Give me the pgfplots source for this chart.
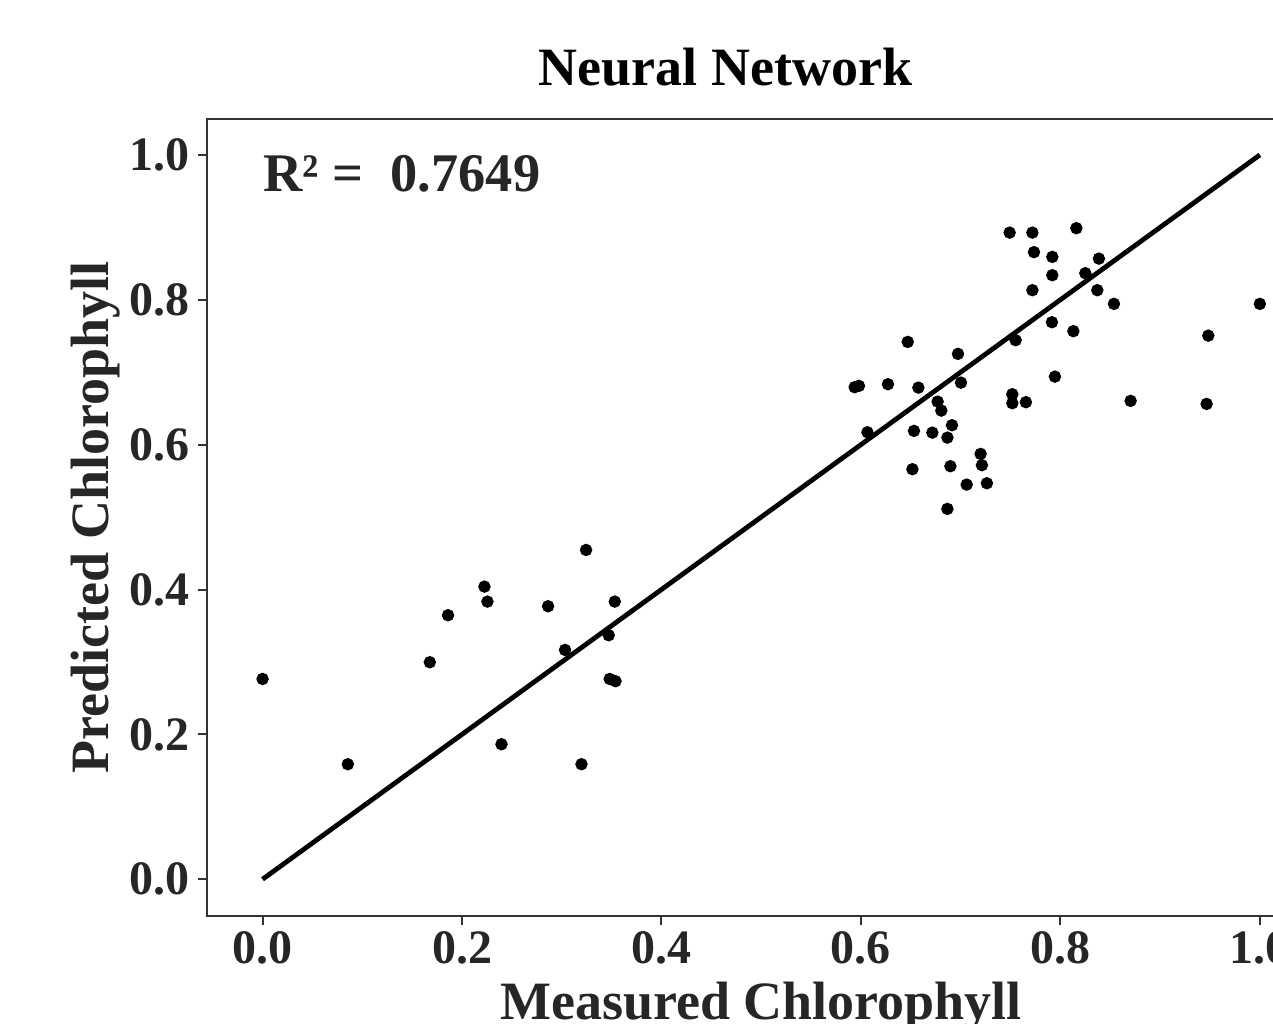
\documentclass[border=0pt]{standalone}
\usepackage{fontspec}
\setmainfont{Liberation Serif}
\usepackage{pgfplots}
\pgfplotsset{compat=1.18}
\definecolor{txt}{HTML}{262626}
\definecolor{frame}{HTML}{333333}

\begin{document}
\begin{tikzpicture}
  \begin{axis}[
    name = ax,
    scale only axis,
    width = 277pt,
    height = 199.2pt,
    xmin = -0.0555, xmax = 1.0555,
    ymin = -0.0507, ymax = 1.0493,
    axis line style = {frame, line width=0.5pt},
    xtick = {0,0.2,0.4,0.6,0.8,1},
    ytick = {0,0.2,0.4,0.6,0.8,1},
    xticklabels = {0.0,0.2,0.4,0.6,0.8,1.0},
    yticklabels = {0.0,0.2,0.4,0.6,0.8,1.0},
    tick align = outside,
    xtick pos = bottom,
    ytick pos = left,
    major tick length = 2.3pt,
    tick style = {frame, line width=0.5pt},
    ticklabel style = {font=\fontsize{12}{14}\selectfont\bfseries, text=txt},
    xticklabel style = {anchor=base, yshift=-9.5pt},
    yticklabel style = {anchor=east, inner sep=0pt, xshift=-1.8pt},
    clip = false,
    ]
    \addplot [black, line width=1.2pt] coordinates {(0,0) (1,1)};
    \addplot [only marks, mark=*, mark size=1.35pt, black] coordinates {
      (0.0000,0.2765) (0.0855,0.1588) (0.1677,0.2996) (0.1860,0.3645)
      (0.2225,0.4040) (0.2255,0.3833) (0.2396,0.1864) (0.2863,0.3769)
      (0.3244,0.4546) (0.3532,0.3833) (0.3033,0.3166) (0.3471,0.3369)
      (0.3481,0.2765) (0.3539,0.2734) (0.3198,0.1588)
      (0.7491,0.8927) (0.7719,0.8927) (0.8160,0.8988) (0.7735,0.8657)
      (0.7919,0.8592) (0.8386,0.8568) (0.7919,0.8339) (0.8250,0.8367)
      (0.7719,0.8132) (0.8370,0.8132) (0.8537,0.7943) (1.0000,0.7943)
      (0.7915,0.7690) (0.8130,0.7566) (0.6469,0.7418) (0.7551,0.7442)
      (0.6973,0.7253) (0.9483,0.7505) (0.5937,0.6793) (0.5980,0.6811)
      (0.6271,0.6834) (0.6576,0.6787) (0.7003,0.6856) (0.7945,0.6939)
      (0.7518,0.6696) (0.7518,0.6572) (0.7654,0.6586) (0.8704,0.6604)
      (0.9466,0.6562) (0.6769,0.6594) (0.6806,0.6470) (0.6065,0.6171)
      (0.6532,0.6190) (0.6716,0.6166) (0.6913,0.6268) (0.6867,0.6097)
      (0.7200,0.5872) (0.7213,0.5716) (0.6516,0.5661) (0.6897,0.5702)
      (0.7060,0.5448) (0.7263,0.5467) (0.6867,0.5113)
    };
    \node [anchor=base west, inner sep=0pt, text=txt, font=\fontsize{13.6}{16}\selectfont\bfseries]
      at (axis cs:0,0.949) {R² =\ \ 0.7649};
    \node [anchor=base, font=\fontsize{13.5}{16}\selectfont\bfseries]
      at ([yshift=8.5pt]rel axis cs:0.4677,1) {Neural Network};
    \node [anchor=base, text=txt, font=\fontsize{13.5}{16}\selectfont\bfseries]
      at ([yshift=-26pt]rel axis cs:0.5,0) {Measured Chlorophyll};
    \node [anchor=base, rotate=90, text=txt, font=\fontsize{13.5}{16}\selectfont\bfseries]
      at ([xshift=-24.6pt]rel axis cs:0,0.5) {Predicted Chlorophyll};
  \end{axis}
  \pgfresetboundingbox
  \path ([xshift=-51.8pt, yshift=-27pt]ax.south west) rectangle ++(318.25pt,256pt);
\end{tikzpicture}
\end{document}
